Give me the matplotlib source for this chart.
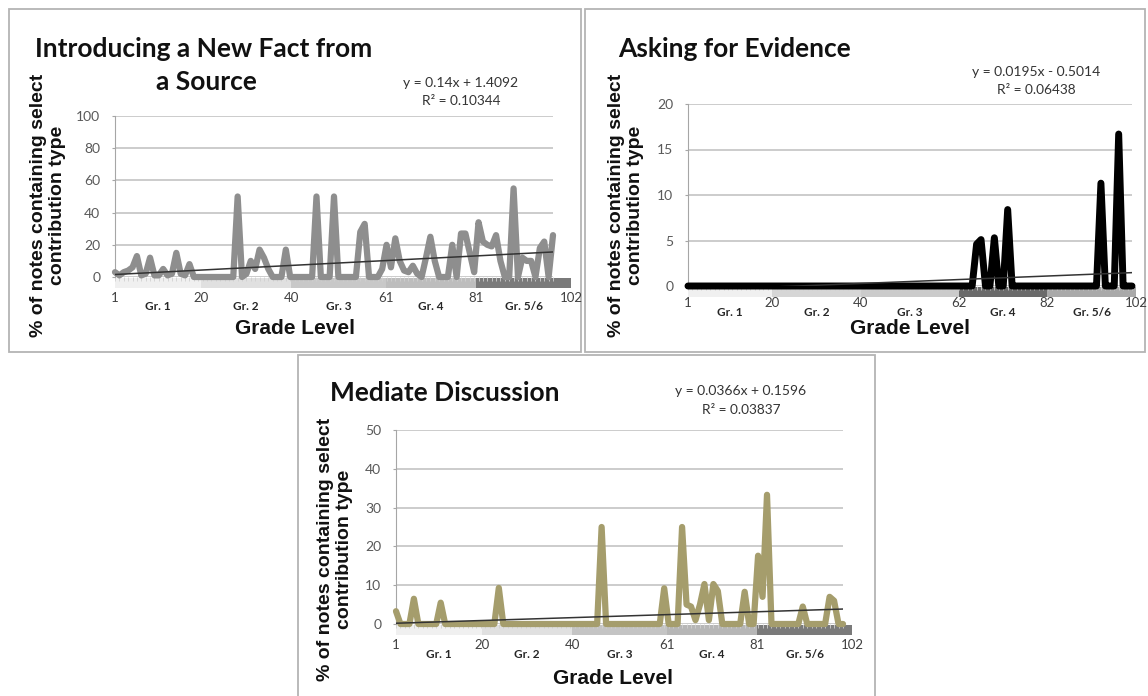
import matplotlib
matplotlib.use('Agg')
import matplotlib.pyplot as plt
import matplotlib.transforms as mtransforms
from matplotlib.patches import Rectangle
import numpy as np

W, H = 1148, 696

# ---- data ----
grades = ['Gr. 1', 'Gr. 2', 'Gr. 3', 'Gr. 4', 'Gr. 5/6']
fact_edges = [1, 20, 40, 61, 81, 102]
evid_edges = [1, 20, 40, 62, 82, 102]
med_edges = [1, 20, 40, 61, 81, 102]

fact = [3, 1, 3, 4, 6, 13, 1, 2, 12, 1,
        1, 5, 1, 2, 15, 2, 1, 8, 0, 0,
        0, 0, 0, 0, 0, 0, 0, 0, 50, 0,
        2, 10, 5, 17, 12, 5, 0, 0, 0, 17,
        0, 0, 0, 0, 0, 0, 50, 0, 0, 0,
        50, 0, 0, 0, 0, 0, 28, 33, 0, 0,
        0, 5, 20, 6, 24, 10, 4, 3, 7, 2,
        0, 12, 25, 10, 0, 0, 0, 20, 0, 27,
        27, 15, 3, 34, 22, 20, 19, 26, 10, 0,
        0, 55, 0, 12, 10, 10, 0, 18, 22, 0,
        26]

evidence = [0] * 65 + [4.6, 5.1, 0, 0, 5.3, 0, 0, 8.4] + [0] * 20 + \
           [11.3, 0, 0, 0, 16.7, 0, 0, 0]

mediate = [3.3, 0, 0, 0, 6.5, 0, 0, 0, 0, 0,
           5.5, 0, 0, 0, 0, 0, 0, 0, 0, 0,
           0, 0, 0, 9.3, 0, 0, 0, 0, 0, 0,
           0, 0, 0, 0, 0, 0, 0, 0, 0, 0,
           0, 0, 0, 0, 0, 0, 25, 0, 0, 0,
           0, 0, 0, 0, 0, 0, 0, 0, 0, 0,
           9.2, 0, 0, 0, 25, 5, 4.5, 1, 5, 10.3,
           1, 10.3, 8.5, 0, 0, 0, 0, 0, 8.3, 0,
           0, 17.6, 7, 33.3, 0, 0, 0, 0, 0, 0,
           0, 4.5, 0, 0, 0, 0, 0, 7, 6, 0,
           0]

# slope, intercept, R^2 of the Excel trendlines
fact_fit = (0.14, 1.4092, 0.10344)
evid_fit = (0.0195, -0.5014, 0.06438)
med_fit = (0.0366, 0.1596, 0.03837)

plt.rcParams['font.family'] = ['Lato', 'DejaVu Sans']

fig = plt.figure(figsize=(W / 100, H / 100), dpi=100)


def rect(l, t, r, b):
    return [l / W, 1 - b / H, (r - l) / W, (b - t) / H]


def fx(x):
    return x / W


def fy(y):
    return 1 - y / H


def border(l, t, r, b):
    fig.add_artist(Rectangle((fx(l), fy(b)), (r - l) / W, (b - t) / H,
                             transform=fig.transFigure, fill=False,
                             ec='#b4b4b4', lw=1.3))


def panel(ax_px, band_px, vals, ymax, ystep, color, lw, fit, edges, shades,
          lab_y, grp_y):
    ax = fig.add_axes(rect(*ax_px))
    ax.set_zorder(2)
    ax.patch.set_alpha(0)
    x = np.arange(1, len(vals) + 1)
    ax.set_xlim(1, len(vals))
    ax.set_ylim(0, ymax)
    ax.set_yticks(np.arange(0, ymax + 1, ystep))
    ax.grid(axis='y', color='#cccccc', lw=1.4)
    ax.set_axisbelow(True)
    for s in ['top', 'right', 'bottom']:
        ax.spines[s].set_visible(False)
    ax.spines['left'].set_color('#a6a6a6')
    ax.tick_params(axis='y', length=2.5, color='#a6a6a6', pad=8,
                   labelsize=10, labelcolor='#595959')
    ax.set_xticks(x)
    ax.tick_params(axis='x', length=3, width=0.6, color='#d0d0d0',
                   labelbottom=False)
    ax.plot(x, vals, color=color, lw=lw, solid_joinstyle='round',
            solid_capstyle='round', clip_on=False, zorder=3)
    m, b, r2 = fit
    ax.plot(x, m * x + b, color='#333333', lw=1.1, zorder=4)

    bx = fig.add_axes(rect(*band_px))
    bx.set_zorder(1)
    bx.set_xlim(edges[0], edges[-1])
    bx.set_ylim(0, 1)
    bx.axis('off')
    for i in range(len(grades)):
        bx.axvspan(edges[i], edges[i + 1], color=shades[i], lw=0)
    tr = mtransforms.blended_transform_factory(bx.transData, fig.transFigure)
    for e in edges:
        fig.text(e, fy(lab_y), str(e), transform=tr, ha='center',
                 va='center', fontsize=9.5, color='#404040')
    for i, g in enumerate(grades):
        fig.text((edges[i] + edges[i + 1]) / 2, fy(grp_y), g, transform=tr,
                 ha='center', va='center', fontsize=8.5, fontweight='bold',
                 color='#262626')
    return ax


def fit_text(fit, cx, y1, y2):
    m, b, r2 = fit
    sign = '+' if b >= 0 else '-'
    fig.text(fx(cx), fy(y1), f'y = {m:g}x {sign} {abs(b):g}', ha='center',
             va='center', fontsize=10, color='#333333')
    fig.text(fx(cx), fy(y2), f'R² = {r2:g}', ha='center', va='center',
             fontsize=9.8, color='#333333')


ylab = '% of notes containing select\ncontribution type'
lab_kw = dict(rotation=90, ha='center', va='center', fontsize=14,
              fontweight='bold', family=['Liberation Sans', 'DejaVu Sans'],
              linespacing=1.2, color='#111111')
xlab_kw = dict(ha='center', va='center', fontsize=15, fontweight='bold',
               family=['Liberation Sans', 'DejaVu Sans'], color='#111111')
title_kw = dict(va='center', fontsize=19, fontweight='bold', color='#111111')

# ---- panel 1: Introducing a New Fact from a Source ----
border(9, 9, 581, 352)
panel((115, 116, 553, 277), (115, 278, 571, 288), fact, 100, 20,
      '#8e8e8e', 4.5, fact_fit, fact_edges,
      ['#f0f0f0', '#e0e0e0', '#c8c8c8', '#bdbdbd', '#7a7a7a'], 298, 306)
fig.text(fx(204), fy(49), 'Introducing a New Fact from', ha='center', **title_kw)
fig.text(fx(206), fy(82), 'a Source', ha='center', **title_kw)
fit_text(fact_fit, 461, 83, 101)
fig.text(fx(48), fy(205), ylab, **lab_kw)
fig.text(fx(295), fy(329), 'Grade Level', **xlab_kw)

# ---- panel 2: Asking for Evidence ----
border(585, 9, 1145, 352)
panel((688, 104, 1132, 286), (688, 287, 1136, 297), evidence, 20, 5,
      '#000000', 5.0, evid_fit, evid_edges,
      ['#f0f0f0', '#d6d6d6', '#cbcbcb', '#6a6a6a', '#a9a9a9'], 303, 313)
fig.text(fx(618), fy(49), 'Asking for Evidence', ha='left', **title_kw)
fit_text(evid_fit, 1036, 72, 90)
fig.text(fx(626), fy(205), ylab, **lab_kw)
fig.text(fx(910), fy(328), 'Grade Level', **xlab_kw)

# ---- panel 3: Mediate Discussion ----
border(298, 355, 875, 700)
panel((396, 430, 843, 624), (396, 625, 852, 635), mediate, 50, 10,
      '#a59d6c', 4.5, med_fit, med_edges,
      ['#f0f0f0', '#e0e0e0', '#c4c4c4', '#b6b6b6', '#7a7a7a'], 645, 655)
fig.text(fx(330), fy(393), 'Mediate Discussion', ha='left', **title_kw)
fit_text(med_fit, 741, 391, 410)
fig.text(fx(335), fy(549), ylab, **lab_kw)
fig.text(fx(613), fy(678), 'Grade Level', **xlab_kw)

fig.savefig('out.png', dpi=100)
